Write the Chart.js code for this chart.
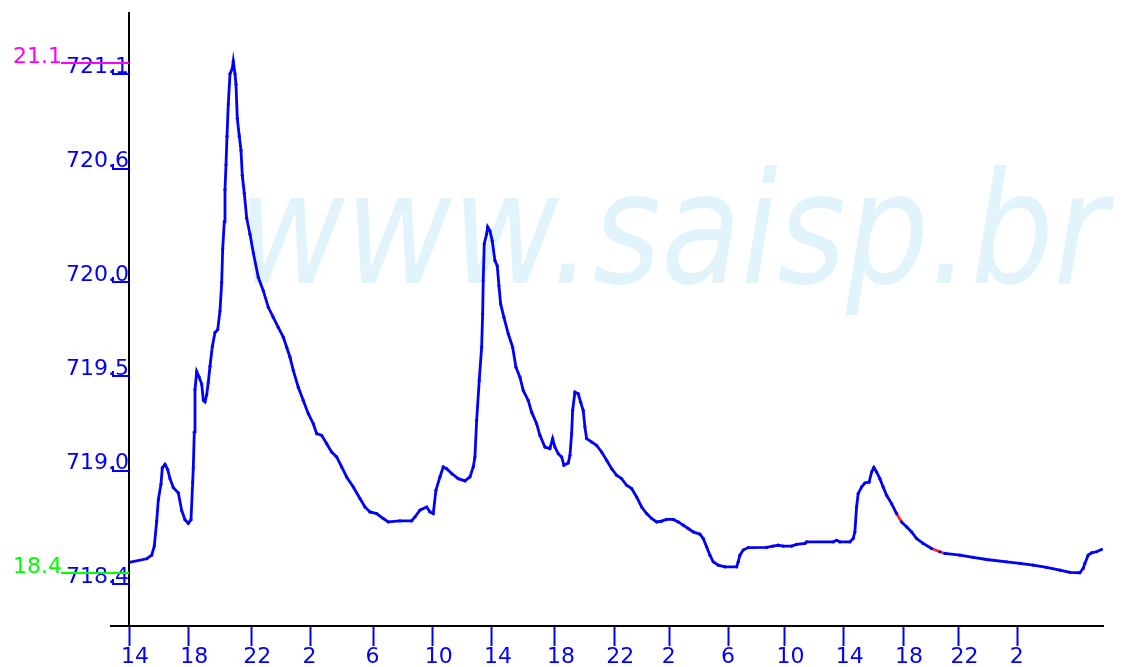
<!DOCTYPE html>
<html>
<head>
<meta charset="utf-8">
<script src="https://cdn.jsdelivr.net/npm/chart.js@4.4.1/dist/chart.umd.min.js"></script>
<style>
  html, body { margin: 0; padding: 0; background: #ffffff; }
  #wrap { width: 1131px; height: 667px; position: relative; }
</style>
</head>
<body>
<div id="wrap"><canvas id="c" width="1131" height="667"></canvas></div>
<script>
// ---- data: x = reading number (15-minute readings), y = water level ----
const samples = [
  0, 4.78, 6.13, 6.83, 7.48, 7.91, 8.64, 8.99, 9.72, 10.45, 11.07, 11.96, 13.31, 14.23, 15.12, 16.01,
  16.74, 17.2, 17.36, 17.63, 17.82, 18.28, 18.9, 19.63, 20.06, 20.52, 20.98, 21.41, 21.87, 22.49, 23.22, 23.95,
  24.57, 25.03, 25.3, 25.73, 25.92, 26.19, 26.46, 26.81, 27.27, 27.89, 28.16, 28.62, 28.89, 29.24, 29.78, 30.24,
  30.59, 31.13, 31.78, 32.67, 33.56, 34.91, 36.26, 37.61, 38.96, 40.31, 41.66, 42.58, 43.47, 44.36, 45.71,
  47.06, 48.41, 49.76, 50.68, 52.03, 53.38, 54.72, 56.07, 57.42, 58.77, 60.56, 62.37, 63.71, 65.06,
  66.87, 68.66, 70.01, 73.16, 76.32, 77.21, 78.56, 80.37, 81.26, 82.15, 82.88, 83.96, 84.85, 85.77,
  87.12, 88.9, 90.71, 92.06, 92.95, 93.41, 93.87, 94.57, 95.22, 95.49, 95.65, 95.92, 96.57, 96.84,
  97.46, 98.08, 98.81, 99.43, 99.89, 100.35, 101.24, 102.4, 103.59, 104.48, 105.56, 106.45, 107.8,
  108.72, 110.07, 110.96, 112.31, 113.66, 114.39, 115.01, 115.9, 116.82, 117.44, 118.6, 119.06, 119.52, 119.79,
  120.41, 121.3, 121.95, 122.65, 123.11, 123.57, 124.92, 126.27, 127.62, 128.97, 130.32, 131.67, 133.02, 134.37,
  135.72, 137.07, 138.42, 139.77, 141.12, 142.47, 143.82, 145.17, 146.95, 148.3, 149.65, 151, 152.35, 154.16,
  155.05, 155.97, 156.86, 157.75, 159.1, 160.91, 164.07, 164.5, 164.96, 165.85, 167.2, 172.17, 173.95,
  175.3, 176.65, 178.91, 180.26, 182.51, 182.96, 190.15, 191.06, 191.95, 194.65, 195.54, 196, 196.46, 196.89,
  197.81, 198.7, 199.86, 200.51, 201.13, 201.86, 202.75, 203.64, 204.56, 205.91, 207.26, 208.61, 209.96, 211.31,
  212.66, 214.44, 216.71, 218.95, 220.3, 224.35, 227.94, 231.56, 236.96, 240.55, 244.14, 247.75, 251.35,
  254.05, 256.75, 257.64, 258.1, 258.99, 259.91, 261.26, 262.61
];
const levels = [
  718.457, 718.476, 718.495, 718.543, 718.675, 718.787, 718.872, 718.957, 718.976, 718.948, 718.9, 718.853, 718.825, 718.731, 718.683, 718.664,
  718.683, 718.882, 718.957, 719.146, 719.372, 719.467, 719.439, 719.401, 719.316, 719.307, 719.344, 719.41, 719.495, 719.599, 719.674, 719.689,
  719.788, 719.939, 720.118, 720.26, 720.43, 720.562, 720.713, 720.883, 721.043, 721.071, 721.11, 721.043, 720.987, 720.807, 720.713, 720.638,
  720.506, 720.411, 720.279, 720.194, 720.096, 719.966, 719.895, 719.807, 719.754, 719.701, 719.649, 719.596, 719.543, 719.473, 719.384,
  719.314, 719.244, 719.191, 719.138, 719.129, 719.085, 719.041, 719.015, 718.962, 718.909, 718.856, 718.795, 718.75, 718.724,
  718.715, 718.689, 718.671, 718.676, 718.676, 718.697, 718.733, 718.75, 718.724, 718.715, 718.839, 718.909, 718.962, 718.953,
  718.927, 718.9, 718.888, 718.909, 718.962, 719.015, 719.208, 719.42, 719.596, 719.772, 719.948, 720.142, 720.195, 720.233,
  720.212, 720.159, 720.054, 720.027, 719.922, 719.825, 719.754, 719.667, 719.596, 719.49, 719.437, 719.367, 719.314,
  719.252, 719.191, 719.129, 719.067, 719.059, 719.112, 719.067, 719.032, 719.015, 718.971, 718.983, 719.023, 719.138, 719.261,
  719.358, 719.349, 719.305, 719.261, 719.173, 719.112, 719.094, 719.076, 719.041, 718.997, 718.953, 718.918, 718.9, 718.865,
  718.848, 718.803, 718.75, 718.715, 718.689, 718.671, 718.675, 718.684, 718.684, 718.671, 718.654, 718.636, 718.618, 718.606,
  718.583, 718.539, 718.495, 718.46, 718.442, 718.433, 718.433, 718.46, 718.495, 718.522, 718.535, 718.536, 718.543,
  718.548, 718.543, 718.543, 718.552, 718.557, 718.565, 718.565, 718.574, 718.565, 718.565, 718.583, 718.618, 718.75, 718.821,
  718.856, 718.877, 718.882, 718.935, 718.959, 718.935, 718.9, 718.856, 718.812, 718.768, 718.715, 718.671, 718.645, 718.618,
  718.583, 718.557, 718.53, 718.513, 718.504, 718.495, 718.483, 718.472, 718.46, 718.451, 718.442, 718.43, 718.416,
  718.404, 718.402, 718.425, 718.451, 718.495, 718.507, 718.513, 718.525
];
// reading ranges drawn in red
const redRanges = [[207.0, 208.7], [216.5, 220.4]];

// reading number at which each hour label falls
const xTickVals = [0, 16, 33, 49, 66, 82, 98, 115, 131, 146, 162, 177, 193, 209, 224, 240];
const xTickLabels = ['14', '18', '22', '2', '6', '10', '14', '18', '22', '2', '6', '10', '14', '18', '22', '2'];
const yTickVals = [718.4, 719.0, 719.5, 720.0, 720.6, 721.1];

const refTopValue = 721.1, refTopLabel = '21.1';
const refBottomValue = 718.4, refBottomLabel = '18.4';
const watermark = 'www.saisp.br';

const BLUE = '#0000ff';
const FONT = "'DejaVu Sans', Verdana, sans-serif";

const decor = {
  id: 'decor',
  beforeDraw(chart) {
    const ctx = chart.ctx;
    ctx.save();
    ctx.fillStyle = '#e1f4fc';
    ctx.font = "oblique 131px 'DejaVu Sans', Verdana, sans-serif";
    ctx.textBaseline = 'alphabetic';
    ctx.textAlign = 'left';
    ctx.translate(238, 283);
    ctx.scale(1.0, 1.18);
    ctx.fillText(watermark, 0, 0);
    ctx.restore();
  },
  afterDraw(chart) {
    const ctx = chart.ctx;
    const y = chart.scales.y;
    const left = chart.chartArea.left, bottom = chart.chartArea.bottom;
    ctx.save();
    // x axis extension to the left
    ctx.strokeStyle = '#000';
    ctx.lineWidth = 2;
    ctx.beginPath();
    ctx.moveTo(left - 19, bottom);
    ctx.lineTo(left, bottom);
    ctx.stroke();
    // small y tick marks under labels
    ctx.strokeStyle = BLUE;
    ctx.lineWidth = 2;
    yTickVals.forEach(v => {
      const py = Math.round(y.getPixelForValue(v)) + 11;
      ctx.beginPath();
      ctx.moveTo(left - 16, py - 5);
      ctx.lineTo(left - 16, py);
      ctx.lineTo(left, py);
      ctx.stroke();
    });
    // reference lines + labels
    const refs = [[refTopValue, refTopLabel, '#ff00ff'], [refBottomValue, refBottomLabel, '#00ff00']];
    refs.forEach(([v, lab, col]) => {
      const py = Math.round(y.getPixelForValue(v));
      ctx.strokeStyle = col;
      ctx.lineWidth = 2;
      ctx.beginPath();
      ctx.moveTo(61, py);
      ctx.lineTo(left, py);
      ctx.stroke();
      ctx.fillStyle = col;
      ctx.font = '22px ' + FONT;
      ctx.textAlign = 'left';
      ctx.textBaseline = 'alphabetic';
      ctx.fillText(lab, 13, py);
    });
    ctx.restore();
  }
};

new Chart(document.getElementById('c'), {
  type: 'line',
  data: {
    datasets: [{
      data: samples.map((s, i) => ({ x: s, y: levels[i] })),
      borderColor: BLUE,
      backgroundColor: BLUE,
      borderWidth: 2.8,
      pointRadius: 1.6,
      pointBorderWidth: 0,
      tension: 0,
      segment: {
        borderColor: c => redRanges.some(r => c.p0.parsed.x >= r[0] && c.p1.parsed.x <= r[1]) ? '#ff2020' : BLUE
      }
    }]
  },
  options: {
    responsive: false,
    animation: false,
    events: [],
    layout: { padding: { left: 0, right: 28, top: 12, bottom: 0 } },
    plugins: { legend: { display: false }, tooltip: { enabled: false } },
    scales: {
      x: {
        type: 'linear',
        min: 0,
        max: 263,
        afterBuildTicks: s => { s.ticks = xTickVals.map(v => ({ value: v })); },
        afterFit: s => { s.height = 41; },
        grid: { drawOnChartArea: false, drawTicks: true, tickLength: 20, tickWidth: 2, tickColor: BLUE },
        border: { display: true, color: '#000', width: 2 },
        ticks: {
          color: BLUE,
          font: { family: FONT, size: 22 },
          padding: -2,
          align: 'start',
          labelOffset: -8,
          maxRotation: 0,
          autoSkip: false,
          callback: v => { const i = xTickVals.indexOf(v); return i >= 0 ? xTickLabels[i] : ''; }
        }
      },
      y: {
        type: 'linear',
        min: 718.12,
        max: 721.364,
        afterBuildTicks: s => { s.ticks = yTickVals.map(v => ({ value: v })); },
        afterFit: s => { s.width = 129; },
        grid: { drawOnChartArea: false, drawTicks: false },
        border: { display: true, color: '#000', width: 2 },
        ticks: {
          color: BLUE,
          font: { family: FONT, size: 22 },
          padding: 0,
          labelOffset: 4,
          callback: v => v.toFixed(1)
        }
      }
    }
  },
  plugins: [decor]
});
</script>
</body>
</html>
